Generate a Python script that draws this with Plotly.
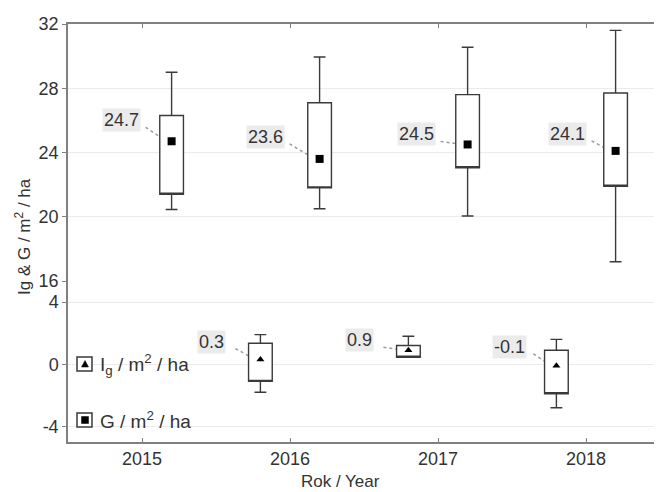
import plotly.graph_objects as go

# ---------------- data ----------------
years = ["2015", "2016", "2017", "2018"]

# G / m2 / ha  (mean, box = lower/upper, whiskers = low/high)
g_mean = [24.7, 23.6, 24.5, 24.1]
g_box_low = [21.4, 21.8, 23.05, 21.9]
g_box_high = [26.3, 27.1, 27.6, 27.7]
g_whisk_low = [20.45, 20.5, 20.05, 17.2]
g_whisk_high = [29.0, 29.95, 30.55, 31.6]

# Ig / m2 / ha  (no value for 2015)
ig_mean = [None, 0.3, 0.9, -0.1]
ig_box_low = [None, -1.1, 0.45, -1.9]
ig_box_high = [None, 1.35, 1.2, 0.9]
ig_whisk_low = [None, -1.8, 0.45, -2.8]
ig_whisk_high = [None, 1.9, 1.8, 1.6]

g_labels = ["24.7", "23.6", "24.5", "24.1"]
ig_labels = [None, "0.3", "0.9", "-0.1"]

top_ticks = [16, 20, 24, 28, 32]
bottom_ticks = [-4, 0, 4]
bottom_ticktext = ["-4", "0", "4"]

# ---------------- style ----------------
PAGE_OFF = 8                      # default body margin of the html page
W, H = 662 - PAGE_OFF, 492 - PAGE_OFF
ML, MR, MT, MB = 68 - PAGE_OFF, 2, 24 - PAGE_OFF, 50
PW, PH = W - ML - MR, H - MT - MB
FONT = "Liberation Sans, Arial, sans-serif"
TXT = "#333333"
AX = "#808080"
GRID = "#ebebeb"
BOXC = "#3a3a3a"
OFF = 0.2          # group offset of the two series
split = 161 / 418  # fraction of height for lower panel

# label offsets (screen px, centre of label relative to marker)
g_off = [(-50, -21), (-54, -22), (-51, -10), (-48, -17)]
ig_off = [None, (-49, -18), (-49, -10), (-47, -19)]


def px(xp):  # page pixel -> paper
    return (xp - PAGE_OFF - ML) / PW


def py(yp):
    return (H - MB - (yp - PAGE_OFF)) / PH


fig = go.Figure()

idx = list(range(len(years)))
g_pos = [i + OFF for i in idx]
keep = [i for i in idx if ig_mean[i] is not None]
ig_pos = [i - OFF for i in keep]

box_style = dict(width=0.16, whiskerwidth=0.5, fillcolor="white",
                 line=dict(color=BOXC, width=1.4), showlegend=False,
                 hoverinfo="skip", boxpoints=False)

fig.add_trace(go.Box(x=g_pos, q1=g_box_low, median=g_box_low, q3=g_box_high,
                     lowerfence=g_whisk_low, upperfence=g_whisk_high,
                     xaxis="x2", yaxis="y", **box_style))
fig.add_trace(go.Box(x=ig_pos, q1=[ig_box_low[i] for i in keep],
                     median=[ig_box_low[i] for i in keep],
                     q3=[ig_box_high[i] for i in keep],
                     lowerfence=[ig_whisk_low[i] for i in keep],
                     upperfence=[ig_whisk_high[i] for i in keep],
                     xaxis="x", yaxis="y2", **box_style))

fig.add_trace(go.Scatter(x=g_pos, y=g_mean, mode="markers", xaxis="x2", yaxis="y",
                         marker=dict(symbol="square", size=8, color="black"),
                         showlegend=False, hoverinfo="skip"))
fig.add_trace(go.Scatter(x=ig_pos, y=[ig_mean[i] for i in keep], mode="markers",
                         xaxis="x", yaxis="y2",
                         marker=dict(symbol="triangle-up", size=7, color="black"),
                         showlegend=False, hoverinfo="skip"))

annotations = []
shapes = []


def add_label(xr, yr, xv, yv, text, off):
    dx, dy = off
    annotations.append(dict(xref=xr, yref=yr, x=xv, y=yv, text=text, showarrow=False,
                            xanchor="center", yanchor="middle",
                            xshift=dx, yshift=-dy, bgcolor="#ebebeb", borderpad=1,
                            font=dict(family=FONT, size=18, color=TXT)))
    shapes.append(dict(type="line", xref=xr, yref=yr, xsizemode="pixel", ysizemode="pixel",
                       xanchor=xv, yanchor=yv, x0=dx + 24, x1=-5, y0=-(dy + 7), y1=0,
                       line=dict(color="#9a9a9a", width=1.5, dash="dot"), layer="below"))


for i in idx:
    add_label("x2", "y", g_pos[i], g_mean[i], g_labels[i], g_off[i])
for k, i in enumerate(keep):
    add_label("x", "y2", ig_pos[k], ig_mean[i], ig_labels[i], ig_off[i])


# ---- manual legend ----
def legend_item(yc, inner, text):
    shapes.append(dict(type="rect", xref="paper", yref="paper",
                       x0=px(77), x1=px(92), y0=py(yc + 7), y1=py(yc - 7),
                       line=dict(color=BOXC, width=1.5), fillcolor="white"))
    if inner == "tri":
        path = "M %f %f L %f %f L %f %f Z" % (px(81.5), py(yc + 3), px(88.5), py(yc + 3),
                                               px(85), py(yc - 3.5))
    else:
        path = "M %f %f L %f %f L %f %f L %f %f Z" % (px(81.5), py(yc + 3.5), px(88.5), py(yc + 3.5),
                                                       px(88.5), py(yc - 3.5), px(81.5), py(yc - 3.5))
    shapes.append(dict(type="path", xref="paper", yref="paper", path=path,
                       fillcolor="black", line=dict(color="black", width=0.5)))
    annotations.append(dict(xref="paper", yref="paper", x=px(98), y=py(yc), text=text,
                            showarrow=False, xanchor="left", yanchor="middle",
                            font=dict(family=FONT, size=19, color=TXT)))


legend_item(364, "tri", "I<sub>g</sub> / m<sup>2</sup> / ha")
legend_item(420, "sq", "G / m<sup>2</sup> / ha")

# axis titles
annotations.append(dict(xref="paper", yref="paper", x=px(340), y=py(481), text="Rok / Year",
                        xanchor="center", yanchor="middle",
                        showarrow=False, font=dict(family=FONT, size=17, color=TXT)))
annotations.append(dict(xref="paper", yref="paper", x=px(23), y=py(237),
                        xanchor="center", yanchor="middle",
                        text="Ig &amp; G / m<sup>2</sup> / ha", textangle=-90,
                        showarrow=False, font=dict(family=FONT, size=17, color=TXT)))

tickfont = dict(family=FONT, size=18, color=TXT)
fig.update_layout(
    width=W, height=H, margin=dict(l=ML, r=MR, t=MT, b=MB, autoexpand=False),
    paper_bgcolor="white", plot_bgcolor="white",
    font=dict(family=FONT, color=TXT),
    xaxis=dict(domain=[0, 1], anchor="y2", range=[-0.5, 3.5], tickvals=idx, ticktext=years,
               ticks="inside", ticklen=4, tickcolor=AX, showline=True, linecolor=AX, linewidth=1.5,
               showgrid=False, zeroline=False, tickfont=tickfont, automargin=False),
    xaxis2=dict(domain=[0, 1], anchor="y", side="top", matches="x", range=[-0.5, 3.5],
                tickvals=idx, showticklabels=False, ticks="inside", ticklen=4, tickcolor=AX,
                showline=True, linecolor=AX, linewidth=1.5, showgrid=False, zeroline=False,
                automargin=False),
    yaxis=dict(domain=[split, 1], anchor="x", range=[16, 32], tickvals=top_ticks,
               ticks="outside", ticklen=4, tickcolor=AX, showline=True, linecolor=AX,
               linewidth=1.5, mirror="ticks", gridcolor=GRID, gridwidth=1, zeroline=False,
               tickfont=tickfont, automargin=False),
    yaxis2=dict(domain=[0, split], anchor="x", range=[-5, 5.35], tickvals=bottom_ticks,
                ticktext=bottom_ticktext,
                ticks="outside", ticklen=4, tickcolor=AX, showline=True, linecolor=AX,
                linewidth=1.5, mirror="ticks", gridcolor=GRID, gridwidth=1, zeroline=False,
                tickfont=tickfont, automargin=False),
    annotations=annotations, shapes=shapes,
)

fig.write_html("out.html")
